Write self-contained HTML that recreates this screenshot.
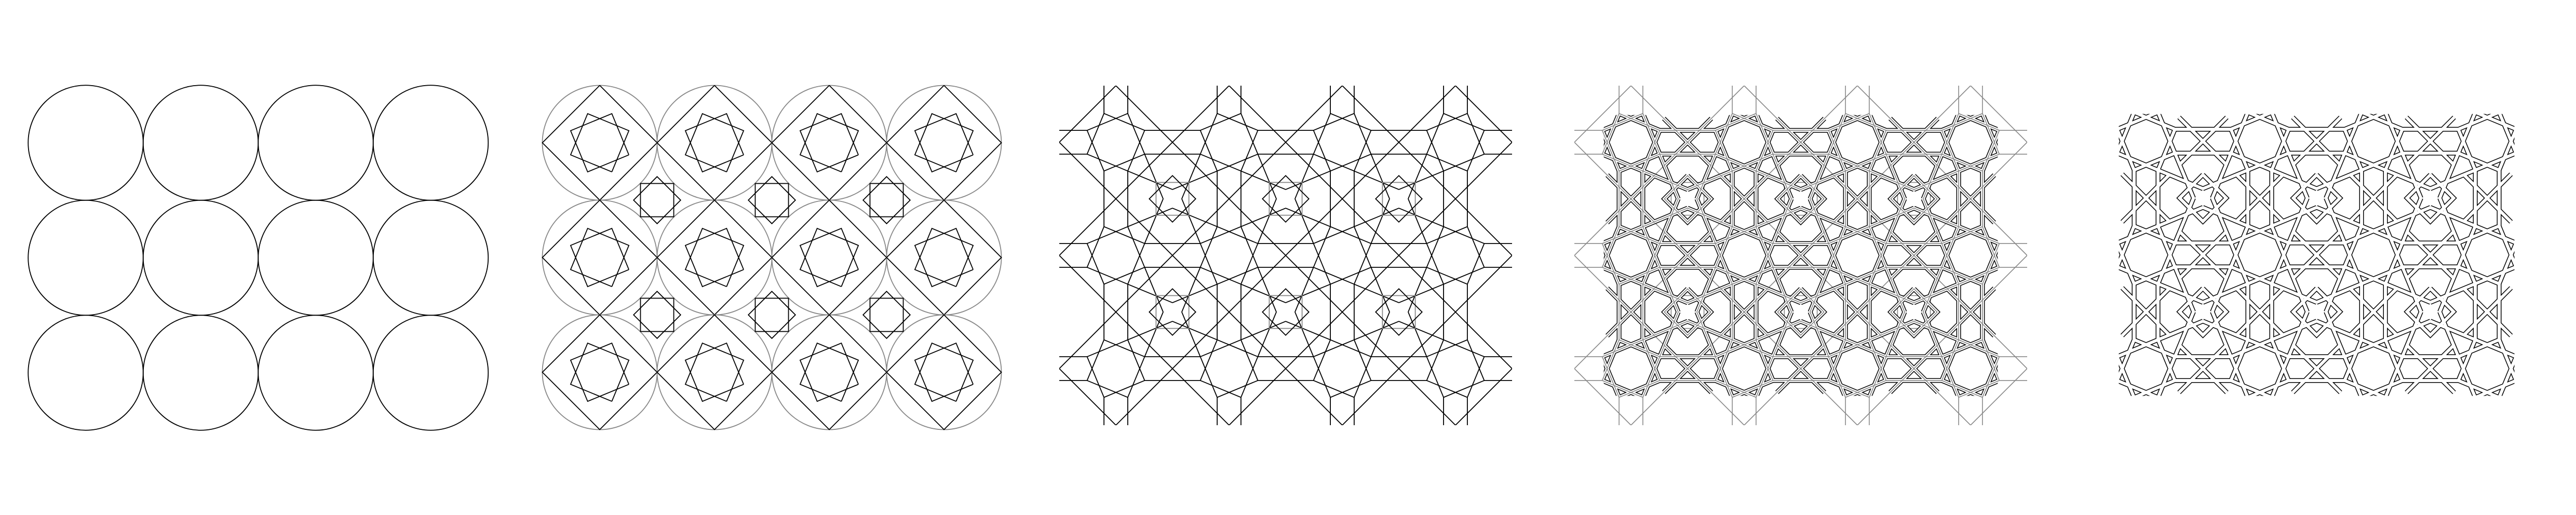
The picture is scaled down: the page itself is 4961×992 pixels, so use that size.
<!DOCTYPE html>
<html><head><meta charset="utf-8">
<style>
html,body{margin:0;padding:0;background:#fff;}
svg{display:block;}
</style></head>
<body>
<svg id="fig" xmlns="http://www.w3.org/2000/svg" width="4961" height="992" viewBox="0 0 4961 992">
<rect x="0" y="0" width="4961" height="992" fill="#fff"/>
</svg>
<script>
// grid data per panel
const panelNames = ['circle-grid','construction-grid','pattern-lines','strap-construction','final-strapwork'];
const originX = [165, 1155, 2149, 3141, 4133];
const originY = [275, 275, 274, 274, 272];
const spacing = [221.5, 221, 218, 218, 219];
const cols = 4;
const rows = 3;

const NS = 'http://www.w3.org/2000/svg';
const svg = document.getElementById('fig');
function el(tag, attrs, parent){
  const e = document.createElementNS(NS, tag);
  for (const k in attrs) e.setAttribute(k, attrs[k]);
  (parent||svg).appendChild(e);
  return e;
}
function pts(a){ return a.map(p=>p[0].toFixed(1)+','+p[1].toFixed(1)).join(' '); }

const defs = el('defs', {});

function makePanel(idx){
  const g = el('g', {});
  
  
  return g;
}
function clipFor(idx, name, m){
  const x0 = originX[idx]-m, y0 = originY[idx]-m;
  const w = spacing[idx]*(cols-1)+2*m, h = spacing[idx]*(rows-1)+2*m;
  const cp = el('clipPath', {id: name}, defs);
  el('rect', {x:x0, y:y0, width:w, height:h}, cp);
  return 'url(#'+name+')';
}

function cellGeometry(S, i, j){
  const R = 0.55*S;
  const v = [];
  for (let k=0;k<8;k++){ const t=(22.5+45*k)*Math.PI/180; v.push([R*Math.cos(t), R*Math.sin(t)]); }
  const squares = [[v[0],v[2],v[4],v[6],v[0]],[v[1],v[3],v[5],v[7],v[1]]];
  const connectors = [];
  for (let k=0;k<8;k++){
    const p=v[k];
    if (k%4===0 || k%4===3) connectors.push([p,[Math.sign(p[0])*S, p[1]]]);
    else connectors.push([p,[p[0], Math.sign(p[1])*S]]);
  }
  const ext = [];
  for (let k=0;k<8;k++){
    const u = (k%2===1) ? v[(k+2)%8] : v[(k+6)%8];
    const p = v[k];
    const e = [p[0]+(p[0]-u[0])*1.1, p[1]+(p[1]-u[1])*1.1];
    const si = i + (e[0]>0?0:-1), sj = j + (e[1]>0?0:-1);
    if (si>=0 && si<=cols-2 && sj>=0 && sj<=rows-2) ext.push([p,e]);
  }
  const diamond = [[0,-S],[S,0],[0,S],[-S,0],[0,-S]];
  const tips = [];
  const base = [[-0.42*S,0.58*S],[0,S],[0.42*S,0.58*S]];
  for (let r=0;r<4;r++){
    const a=r*Math.PI/2, c=Math.cos(a), s=Math.sin(a);
    tips.push(base.map(p=>[p[0]*c-p[1]*s, p[0]*s+p[1]*c]));
  }
  return {squares, connectors, ext, diamond, tips};
}
function shift(poly, cx, cy){ return poly.map(p=>[p[0]+cx,p[1]+cy]); }

// ---- Panel 1 ----
(function(){
  const g = makePanel(0);
  const d = spacing[0];
  for (let j=0;j<rows;j++) for (let i=0;i<cols;i++){
    const c = el('circle',{cx:originX[0]+i*d, cy:originY[0]+j*d, r:d/2, fill:'none', stroke:'#000', 'stroke-width':1.8}, g);
    
    
  }
})();

// ---- Panel 2 ----
(function(){
  const idx=1, g = makePanel(idx), d=spacing[idx], S=d/2;
  for (let j=0;j<rows;j++) for (let i=0;i<cols;i++){
    const cx=originX[idx]+i*d, cy=originY[idx]+j*d;
    const c = el('circle',{cx, cy, r:S, fill:'none', stroke:'#888', 'stroke-width':1.8}, g);
    
    
    const geo = cellGeometry(S,i,j);
    const dm = el('polyline',{points:pts(shift(geo.diamond,cx,cy)), fill:'none', stroke:'#000','stroke-width':1.8}, g);
    
    
    geo.squares.forEach(sq=>{
      const p = el('polyline',{points:pts(shift(sq,cx,cy)), fill:'none', stroke:'#000','stroke-width':1.8}, g);
      
      
    });
  }
  for (let j=0;j<rows-1;j++) for (let i=0;i<cols-1;i++){
    const sx=originX[idx]+i*d+S, sy=originY[idx]+j*d+S, h=0.29*S, r=0.41*S;
    const q = el('rect',{x:sx-h,y:sy-h,width:2*h,height:2*h,fill:'none',stroke:'#000','stroke-width':1.8}, g);
    
    
    const dd = el('polygon',{points:pts([[sx,sy-r],[sx+r,sy],[sx,sy+r],[sx-r,sy]]),fill:'none',stroke:'#000','stroke-width':1.8}, g);
    
    
  }
})();

function drawLines(idx, g, color, width, grayColor, clip){
  const d=spacing[idx], S=d/2;
  const gg = el('g',{'clip-path':clip}, g);
  for (let j=0;j<rows;j++) for (let i=0;i<cols;i++){
    const cx=originX[idx]+i*d, cy=originY[idx]+j*d;
    const geo = cellGeometry(S,i,j);
    const all = [geo.diamond, ...geo.squares, ...geo.connectors, ...geo.ext];
    all.forEach(l=>{
      const p = el('polyline',{points:pts(shift(l,cx,cy)), fill:'none', stroke:color,'stroke-width':width,'stroke-linejoin':'miter'}, gg);
      
      
    });
  }
  for (let j=0;j<rows-1;j++) for (let i=0;i<cols-1;i++){
    const sx=originX[idx]+i*d+S, sy=originY[idx]+j*d+S, h=0.29*S, r=0.41*S;
    const q = el('rect',{x:sx-h,y:sy-h,width:2*h,height:2*h,fill:'none',stroke:grayColor,'stroke-width':width}, gg);
    
    
    const dd = el('polygon',{points:pts([[sx,sy-r],[sx+r,sy],[sx,sy+r],[sx-r,sy]]),fill:'none',stroke:color,'stroke-width':width}, gg);
    
    
  }
}

// ---- Panel 3 ----
(function(){
  const idx=2, g=makePanel(idx);
  drawLines(idx, g, '#000', 1.8, '#888', clipFor(idx,'clip3',spacing[idx]/2));
})();

function strapPolys(idx){
  const d=spacing[idx], S=d/2, out=[];
  for (let j=0;j<rows;j++) for (let i=0;i<cols;i++){
    const cx=originX[idx]+i*d, cy=originY[idx]+j*d;
    const geo = cellGeometry(S,i,j);
    [...geo.squares, ...geo.connectors, ...geo.ext, ...geo.tips].forEach(l=>out.push(shift(l,cx,cy)));
  }
  for (let j=0;j<rows-1;j++) for (let i=0;i<cols-1;i++){
    const sx=originX[idx]+i*d+S, sy=originY[idx]+j*d+S, r=0.41*S;
    out.push([[sx,sy-r],[sx+r,sy],[sx,sy+r],[sx-r,sy],[sx,sy-r]]);
  }
  return out;
}
function drawStraps(idx, g, clip, center){
  const gg = el('g',{'clip-path':clip}, g);
  const polys = strapPolys(idx);
  const layers = [['#000',9],['#fff',6]];
  if (center) layers.push(['#888',1.6]);
  layers.forEach(([c,w])=>{
    polys.forEach(l=>{
      const p = el('polyline',{points:pts(l), fill:'none', stroke:c,'stroke-width':w,'stroke-linejoin':'miter','stroke-linecap':'butt'}, gg);
      
      
    });
  });
}

// ---- Panel 4 ----
(function(){
  const idx=3, g=makePanel(idx);
  drawLines(idx, g, '#888', 1.6, '#888', clipFor(idx,'clip4a',spacing[idx]/2));
  drawStraps(idx, g, clipFor(idx,'clip4b',0.48*spacing[idx]/2), true);
})();

// ---- Panel 5 ----
(function(){
  const idx=4, g=makePanel(idx);
  drawStraps(idx, g, clipFor(idx,'clip5',0.48*spacing[idx]/2), false);
})();
</script>
</body></html>
